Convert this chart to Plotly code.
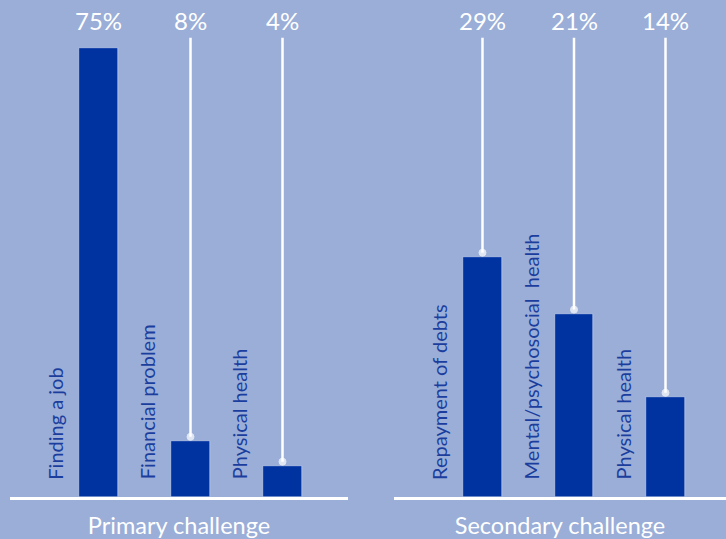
import plotly.graph_objects as go

primary_categories = ["Finding a job", "Financial problem", "Physical health"]
primary_labels = ["75%", "8%", "4%"]
primary_heights = [75, 9.35, 5.2]

secondary_categories = ["Repayment of debts", "Mental/psychosocial  health", "Physical health"]
secondary_labels = ["29%", "21%", "14%"]
secondary_heights = [40.1, 30.6, 16.7]

panel_titles = ["Primary challenge", "Secondary challenge"]

BG = "#9AAED8"
BAR = "#0033A0"
TXT = "#1B3E9E"
FONT = "Lato"
LABEL_Y = 79.5
LINE_TOP = 76.7
DOT_GAP = 0.7

fig = go.Figure()
panels = [
    ("x", "y", primary_categories, primary_labels, primary_heights),
    ("x2", "y2", secondary_categories, secondary_labels, secondary_heights),
]
annotations = []
for xa, ya, cats, labs, hs in panels:
    idx = list(range(len(cats)))
    fig.add_trace(go.Bar(x=idx, y=hs, marker_color=BAR, width=0.424,
                         xaxis=xa, yaxis=ya, showlegend=False, hoverinfo="skip"))
    for i, (c, l, h) in enumerate(zip(cats, labs, hs)):
        if h < 70:
            fig.add_trace(go.Scatter(
                x=[i, i], y=[h + DOT_GAP, LINE_TOP], mode="lines+markers",
                line=dict(color="white", width=2.5),
                marker=dict(color="white", size=[7, 0]),
                xaxis=xa, yaxis=ya, showlegend=False, hoverinfo="skip"))
        annotations.append(dict(x=i, y=LABEL_Y, xref=xa, yref=ya, text=l,
                                showarrow=False, xanchor="center", yanchor="middle",
                                font=dict(family=FONT, size=24, color="white")))
        annotations.append(dict(x=i - 0.47, y=2.6, xref=xa, yref=ya, text=c,
                                textangle=-90, showarrow=False,
                                xanchor="center", yanchor="bottom",
                                font=dict(family=FONT, size=20, color=TXT)))

axis_common = dict(showgrid=False, zeroline=False, showticklabels=False, ticks="",
                   showline=True, linecolor="white", linewidth=2.5, fixedrange=True)

fig.update_layout(
    width=726, height=539,
    margin=dict(l=0, r=0, t=0, b=0),
    paper_bgcolor=BG, plot_bgcolor=BG,
    bargap=0,
    annotations=annotations,
    xaxis=dict(domain=[10 / 726, 348 / 726], range=[-0.962, 2.712], anchor="y",
               title=dict(text=panel_titles[0], font=dict(family=FONT, size=23.5, color="white"),
                          standoff=25), **axis_common),
    xaxis2=dict(domain=[394 / 726, 1], range=[-0.967, 2.661], anchor="y2",
                title=dict(text=panel_titles[1], font=dict(family=FONT, size=23.5, color="white"),
                           standoff=25), **axis_common),
    yaxis=dict(domain=[42 / 539, 1], range=[0, 83.0], visible=False, fixedrange=True),
    yaxis2=dict(domain=[42 / 539, 1], range=[0, 83.0], visible=False, anchor="x2",
                matches="y", fixedrange=True),
)

fig.write_html("out.html", config={"displayModeBar": False},
               post_script="document.body.style.margin='0';document.body.style.overflow='hidden';")
